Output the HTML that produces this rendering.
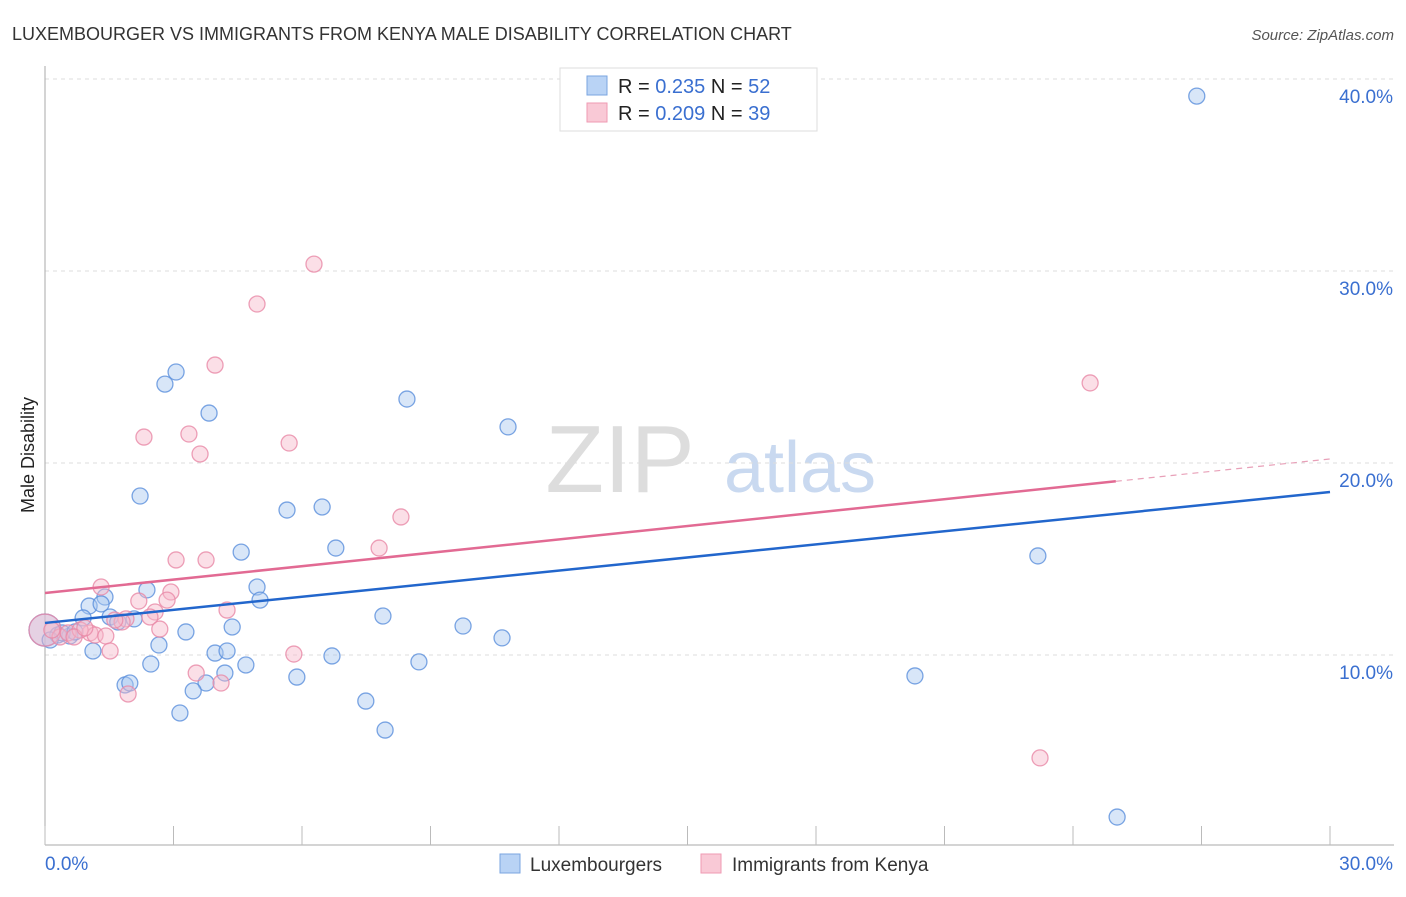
<!DOCTYPE html>
<html><head><meta charset="utf-8"><style>
body{margin:0;background:#fff;font-family:"Liberation Sans",sans-serif;}
svg text{font-family:"Liberation Sans",sans-serif;}
</style></head><body>
<svg id="c" width="1406" height="892">
<text x="12" y="40" font-size="18" fill="#333">LUXEMBOURGER VS IMMIGRANTS FROM KENYA MALE DISABILITY CORRELATION CHART</text>
<text x="1394" y="40" font-size="15" fill="#555" font-style="italic" text-anchor="end">Source: ZipAtlas.com</text>
<text x="34" y="455" font-size="18" fill="#222" transform="rotate(-90 34 455)" text-anchor="middle">Male Disability</text>
<text x="620" y="492" font-size="96" fill="#ddd" font-family="Liberation Serif" text-anchor="middle">ZIP</text>
<text x="800" y="492" font-size="72" fill="#c9d9f0" text-anchor="middle">atlas</text>
<g id="grid"></g><g id="pts"></g><g id="lines"></g>
<g>
<rect x="560" y="68" width="257" height="63" fill="#fff" stroke="#ddd"/>
<rect x="587" y="76" width="20" height="19" fill="#b9d3f5" stroke="#7aa5e0"/>
<rect x="587" y="103" width="20" height="19" fill="#f9c9d6" stroke="#ef9ab3"/>
<text x="618" y="93" font-size="20" fill="#222">R = <tspan fill="#3a6fd0">0.235</tspan>  N = <tspan fill="#3a6fd0">52</tspan></text>
<text x="618" y="120" font-size="20" fill="#222">R = <tspan fill="#3a6fd0">0.209</tspan>  N = <tspan fill="#3a6fd0">39</tspan></text>
</g>
<g>
<rect x="500" y="854" width="20" height="19" fill="#b9d3f5" stroke="#7aa5e0"/>
<text x="530" y="871" font-size="19" fill="#333">Luxembourgers</text>
<rect x="701" y="854" width="20" height="19" fill="#f9c9d6" stroke="#ef9ab3"/>
<text x="732" y="871" font-size="19" fill="#333">Immigrants from Kenya</text>
</g>
</svg>
<script>
const blueX=[26.89,3.06,2.80,3.83,8.45,10.81,2.22,5.65,6.47,4.58,6.79,23.18,2.38,4.95,5.02,1.40,1.03,1.31,0.89,1.52,2.08,1.70,7.89,9.76,10.67,3.29,4.37,2.66,1.12,3.97,4.25,6.70,8.73,2.47,4.69,4.20,5.88,20.31,1.87,1.98,3.76,3.46,3.15,7.49,7.94,25.03,0.0,0.30,0.58,0.40,0.70,0.12];
const blueY=[39.11,24.74,24.11,22.60,23.33,21.88,18.28,17.55,17.71,15.36,15.57,15.16,13.39,13.54,12.86,13.02,12.55,12.66,11.93,11.98,11.88,11.72,12.03,11.51,10.89,11.20,11.46,10.52,10.21,10.10,10.21,9.95,9.64,9.53,9.48,9.06,8.85,8.91,8.44,8.54,8.54,8.13,6.98,7.60,6.09,1.56,11.30,11.04,10.99,11.15,11.20,10.78];
const pinkX=[6.28,4.95,3.97,3.36,2.31,3.62,5.70,24.40,8.31,7.80,3.06,3.76,1.31,2.94,2.85,2.19,2.57,2.45,1.89,4.25,1.80,2.68,1.05,1.17,1.42,1.52,5.81,3.53,4.11,1.94,23.23,0.0,0.35,0.54,0.82,0.68,0.16,0.93,1.63];
const pinkY=[30.36,28.28,25.10,21.51,21.35,20.47,21.04,24.17,17.19,15.57,14.95,14.95,13.54,13.28,12.86,12.81,12.24,11.98,11.88,12.34,11.72,11.35,11.15,11.04,10.99,10.21,10.05,9.06,8.54,7.97,4.64,11.30,10.94,11.15,11.30,10.94,11.30,11.41,11.82];
const blueTrend=[11.67,18.49];
const pinkTrend=[13.23,20.21];
const pinkSolidEnd=25;
const yTicks=[10,20,30,40];
const xTickVals=[0,3,6,9,12,15,18,21,24,27,30];
const NS='http://www.w3.org/2000/svg';
const sx=v=>45+v/30*1285, sy=v=>847-v*19.2;
function mk(tag,attrs,parent){const e=document.createElementNS(NS,tag);for(const k in attrs)e.setAttribute(k,attrs[k]);parent.appendChild(e);return e;}
const grid=document.getElementById('grid'),pts=document.getElementById('pts'),lines=document.getElementById('lines');
yTicks.forEach(t=>{
 const l=mk('line',{x1:45,x2:1394,y1:sy(t),y2:sy(t),stroke:'#ddd','stroke-dasharray':'4,4'},grid);
 
 
 const tx=mk('text',{x:1393,y:sy(t)+24,'font-size':19,fill:'#3a6fd0','text-anchor':'end'},grid);
 tx.textContent=t.toFixed(1)+'%';
 
 
});
const ax=mk('line',{x1:45,x2:45,y1:66,y2:845,stroke:'#aaa'},grid);


const bx=mk('line',{x1:45,x2:1394,y1:845,y2:845,stroke:'#aaa'},grid);


xTickVals.forEach(t=>{
 const l=mk('line',{x1:sx(t),x2:sx(t),y1:826,y2:845,stroke:'#bbb'},grid);
 
 
});
[[0,'start',45],[30,'end',1393]].forEach(([v,a,x])=>{
 const tx=mk('text',{x:x,y:870,'font-size':19,fill:'#3a6fd0','text-anchor':a},grid);
 tx.textContent=v.toFixed(1)+'%';
 
 
});
function dots(X,Y,fill,stroke,name){X.forEach((x,i)=>{
 const r=(x===0)?16:8;
 const c=mk('circle',{cx:sx(x),cy:sy(Y[i]),r:r,fill:fill,'fill-opacity':0.45,stroke:stroke,'stroke-width':1.3,'stroke-opacity':0.8},pts);
 
 
});}
dots(blueX,blueY,'#a9c8f0','#5a8fdc','luxembourger-point');
dots(pinkX,pinkY,'#f7b8ca','#e888a6','kenya-point');
const bl=mk('line',{x1:sx(0),y1:sy(blueTrend[0]),x2:sx(30),y2:sy(blueTrend[1]),stroke:'#2266cc','stroke-width':2.5},lines);


const pAt=v=>pinkTrend[0]+(pinkTrend[1]-pinkTrend[0])*v/30;
const pl=mk('line',{x1:sx(0),y1:sy(pinkTrend[0]),x2:sx(pinkSolidEnd),y2:sy(pAt(pinkSolidEnd)),stroke:'#e26a93','stroke-width':2.5},lines);


const pd=mk('line',{x1:sx(pinkSolidEnd),y1:sy(pAt(pinkSolidEnd)),x2:sx(30),y2:sy(pinkTrend[1]),stroke:'#e8a0b8','stroke-width':1.2,'stroke-dasharray':'6,5'},lines);


</script>
</body></html>
